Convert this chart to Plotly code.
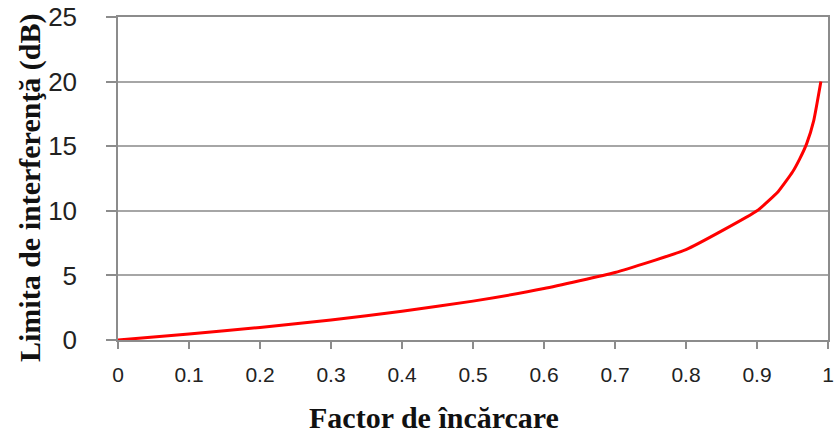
import plotly.graph_objects as go

# Loading factor vs. interference margin
load_factor = [0.0, 0.1, 0.2, 0.3, 0.4, 0.5, 0.6, 0.7, 0.8, 0.9, 0.93, 0.95, 0.96, 0.97, 0.98, 0.99]
margin_db = [0.0, 0.46, 0.97, 1.55, 2.22, 3.01, 3.98, 5.23, 6.99, 10.0, 11.5, 13.0, 14.0, 15.2, 17.0, 20.0]

x_ticks = [0, 0.1, 0.2, 0.3, 0.4, 0.5, 0.6, 0.7, 0.8, 0.9, 1]
x_tick_text = ["0", "0.1", "0.2", "0.3", "0.4", "0.5", "0.6", "0.7", "0.8", "0.9", "1"]
y_ticks = [0, 5, 10, 15, 20, 25]

x_title = "Factor de încărcare"
y_title = "Limita de interferenţă (dB)"

title_font = dict(family="Liberation Serif, Times New Roman", size=30, color="#111111")

fig = go.Figure()
fig.add_trace(go.Scatter(
    x=load_factor, y=margin_db, mode="lines",
    line=dict(color="#ff0000", width=3, shape="spline", smoothing=0.4),
    showlegend=False, hoverinfo="x+y",
))

fig.update_layout(
    width=837, height=436,
    margin=dict(l=118, r=9, t=17, b=96),
    paper_bgcolor="white", plot_bgcolor="white",
    xaxis=dict(
        range=[0, 1], tickvals=x_ticks, ticktext=x_tick_text,
        showgrid=False, zeroline=False, automargin=False,
        showline=True, linecolor="#8c8c8c", linewidth=1.5, mirror=True,
        ticks="outside", ticklen=7, tickcolor="#8c8c8c", tickwidth=1.5,
        ticklabelstandoff=8,
        tickfont=dict(family="Liberation Sans, Arial", size=21, color="#222222"),
    ),
    yaxis=dict(
        range=[0, 25], tickvals=y_ticks,
        showgrid=True, gridcolor="#a6a6a6", gridwidth=1.5,
        zeroline=False, automargin=False,
        showline=True, linecolor="#8c8c8c", linewidth=1.5, mirror=True,
        ticks="outside", ticklen=10, tickcolor="#8c8c8c", tickwidth=1.5,
        ticklabelstandoff=24,
        tickfont=dict(family="Liberation Sans, Arial", size=26, color="#222222"),
    ),
    annotations=[
        dict(text="<b>%s</b>" % x_title, xref="paper", yref="paper",
             x=(434 - 118) / (828 - 118), y=-(417 - 340) / (340 - 17),
             xanchor="center", yanchor="middle", showarrow=False, font=title_font),
        dict(text="<b>%s</b>" % y_title, xref="paper", yref="paper",
             x=-(118 - 30) / (828 - 118), y=(340 - 188) / (340 - 17),
             xanchor="center", yanchor="middle", textangle=-90,
             showarrow=False, font=title_font),
    ],
)

fig.write_html("out.html")
